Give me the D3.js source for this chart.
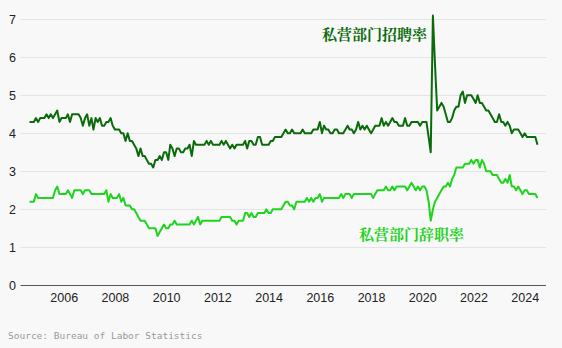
<!DOCTYPE html>
<html>
<head>
<meta charset="utf-8">
<script src="https://cdn.jsdelivr.net/npm/d3@7"></script>
<style>
  html, body { margin: 0; padding: 0; background: #f8f8f8; }
  svg { display: block; }
</style>
</head>
<body>
<svg id="chart" width="562" height="348"></svg>
<script>
// Monthly JOLTS private-sector rates (%), Aug 2004 – Jun 2024
const firstMonth = "2004-08";
const hiresRate = [
  4.3,4.3,4.3,4.4,4.3,4.4,4.4,4.4,4.5,4.4,
  4.5,4.4,4.5,4.6,4.3,4.4,4.4,4.4,4.5,4.3,
  4.5,4.5,4.5,4.5,4.4,4.2,4.4,4.5,4.2,4.4,
  4.1,4.4,4.3,4.4,4.2,4.2,4.3,4.3,4.4,4.2,
  4.1,4.1,4.1,4.0,4.0,3.8,4.0,3.8,3.8,3.7,
  3.6,3.4,3.6,3.4,3.4,3.3,3.2,3.2,3.1,3.3,
  3.3,3.4,3.3,3.5,3.5,3.3,3.7,3.6,3.4,3.6,
  3.6,3.5,3.5,3.6,3.6,3.7,3.4,3.8,3.7,3.7,
  3.7,3.7,3.7,3.8,3.7,3.8,3.7,3.7,3.7,3.7,
  3.8,3.7,3.8,3.7,3.6,3.7,3.6,3.7,3.7,3.7,
  3.7,3.8,3.6,3.8,3.8,3.7,3.7,3.9,3.9,3.7,
  3.7,3.7,3.7,3.8,3.8,3.9,3.9,3.9,3.9,4.0,
  4.1,4.0,4.0,4.1,4.0,4.0,4.0,4.0,4.1,4.0,
  4.0,4.0,4.0,4.1,4.1,4.1,4.3,4.0,4.2,4.1,
  4.1,4.0,4.0,4.1,4.1,4.0,4.0,4.0,4.1,4.2,
  4.1,4.1,4.0,4.1,4.3,4.1,4.2,4.1,4.2,4.1,
  4.0,4.1,4.2,4.2,4.2,4.4,4.2,4.3,4.2,4.3,
  4.4,4.3,4.3,4.2,4.2,4.2,4.4,4.2,4.2,4.3,
  4.3,4.3,4.3,4.2,4.3,4.3,4.3,3.9,3.5,7.1,
  5.8,4.6,4.7,4.8,4.7,4.5,4.3,4.3,4.4,4.6,
  4.7,4.7,5.0,5.1,4.8,5.0,5.0,5.0,4.9,4.8,
  5.0,4.8,4.8,4.7,4.6,4.6,4.5,4.4,4.3,4.3,
  4.5,4.3,4.3,4.2,4.3,4.2,4.0,4.1,4.1,4.1,
  4.0,3.9,4.0,3.9,3.9,3.9,3.9,3.9,3.7
];
const quitsRate = [
  2.2,2.2,2.2,2.4,2.3,2.3,2.3,2.3,2.3,2.3,
  2.3,2.3,2.5,2.6,2.4,2.4,2.4,2.4,2.5,2.4,
  2.3,2.5,2.5,2.5,2.5,2.4,2.5,2.5,2.5,2.4,
  2.4,2.4,2.4,2.4,2.4,2.4,2.5,2.2,2.4,2.3,
  2.3,2.3,2.4,2.2,2.3,2.1,2.1,2.1,2.0,2.0,
  1.9,1.8,1.7,1.7,1.7,1.6,1.5,1.5,1.5,1.5,
  1.3,1.4,1.5,1.6,1.5,1.5,1.6,1.6,1.7,1.6,
  1.6,1.6,1.6,1.6,1.6,1.6,1.7,1.6,1.7,1.8,
  1.6,1.7,1.7,1.7,1.7,1.7,1.7,1.7,1.7,1.7,
  1.8,1.8,1.8,1.8,1.8,1.7,1.7,1.6,1.7,1.7,
  1.7,1.9,1.9,1.8,1.9,1.8,1.8,1.9,1.9,1.9,
  1.9,2.0,1.9,1.9,2.0,2.0,2.0,2.0,2.0,2.1,
  2.2,2.2,2.1,2.1,2.0,2.2,2.2,2.2,2.2,2.2,
  2.3,2.2,2.3,2.2,2.3,2.3,2.4,2.2,2.3,2.3,
  2.3,2.3,2.3,2.3,2.3,2.3,2.4,2.3,2.4,2.4,
  2.4,2.3,2.4,2.4,2.4,2.4,2.4,2.4,2.4,2.4,
  2.4,2.3,2.4,2.5,2.5,2.5,2.5,2.6,2.5,2.5,
  2.6,2.5,2.6,2.6,2.6,2.6,2.6,2.5,2.6,2.7,
  2.6,2.5,2.6,2.5,2.6,2.6,2.5,2.2,1.7,2.0,
  2.2,2.3,2.4,2.5,2.6,2.6,2.7,2.6,2.8,2.9,
  3.1,3.1,3.1,3.1,3.2,3.2,3.2,3.3,3.2,3.3,
  3.3,3.1,3.3,3.2,3.0,3.0,3.0,2.9,2.9,2.9,
  2.8,2.7,2.7,2.8,2.7,2.9,2.6,2.6,2.5,2.6,
  2.5,2.4,2.5,2.5,2.4,2.4,2.4,2.4,2.3
];
const yTicks = [0, 1, 2, 3, 4, 5, 6, 7];
const xTickYears = [2006, 2008, 2010, 2012, 2014, 2016, 2018, 2020, 2022, 2024];
const seriesLabels = { hires: "私营部门招聘率", quits: "私营部门辞职率" };
const sourceText = "Source: Bureau of Labor Statistics";

const svg = d3.select("#chart");
const W = 562, H = 348;
svg.append("rect").attr("width", W).attr("height", H).attr("fill", "#f8f8f8");

// monthly values are plotted at month end (= start of following month)
const start = d3.timeParse("%Y-%m")(firstMonth);
const dateAt = i => d3.timeMonth.offset(start, i + 1);

const x = d3.scaleTime()
  .domain([new Date(2006, 0, 1), new Date(2024, 0, 1)])
  .range([63.7, 524.7]);
const y = d3.scaleLinear().domain([0, 7]).range([285.3, 19.3]);

const gridLeft = 20.5, gridRight = 546;

// gridlines
svg.append("g")
  .selectAll("line")
  .data(yTicks.filter(d => d !== 0))
  .join("line")
  .attr("x1", gridLeft).attr("x2", gridRight)
  .attr("y1", d => Math.round(y(d)) + 0.5).attr("y2", d => Math.round(y(d)) + 0.5)
  .attr("stroke", "#e4e4e4").attr("stroke-width", 1);

// y axis labels
const yAxis = d3.axisLeft(y).tickValues(yTicks).tickSize(0).tickPadding(0).tickFormat(d3.format("d"));
svg.append("g")
  .attr("transform", "translate(16,0)")
  .call(yAxis)
  .call(g => g.select(".domain").remove())
  .call(g => g.selectAll("text")
    .attr("font-family", "'Liberation Sans', Arial, sans-serif")
    .attr("font-size", 12.5)
    .attr("fill", "#222"));

// x axis
const xAxis = d3.axisBottom(x)
  .tickValues(xTickYears.map(yr => new Date(yr, 0, 1)))
  .tickSize(0).tickPadding(0)
  .tickFormat(d3.timeFormat("%Y"));
svg.append("g")
  .attr("transform", "translate(0,293)")
  .call(xAxis)
  .call(g => g.select(".domain").remove())
  .call(g => g.selectAll("text")
    .attr("font-family", "'Liberation Sans', Arial, sans-serif")
    .attr("font-size", 12.5)
    .attr("fill", "#222"));

// zero baseline
svg.append("line")
  .attr("x1", gridLeft).attr("x2", gridRight)
  .attr("y1", Math.round(y(0)) + 0.5).attr("y2", Math.round(y(0)) + 0.5)
  .attr("stroke", "#555").attr("stroke-width", 1);

const line = d3.line()
  .x((d, i) => x(dateAt(i)))
  .y(d => y(d));

const hiresColor = "#0b6b0b";
const quitsColor = "#1fd41f";

svg.append("path").datum(quitsRate)
  .attr("d", line)
  .attr("fill", "none").attr("stroke", quitsColor)
  .attr("stroke-width", 2).attr("stroke-linejoin", "round");

svg.append("path").datum(hiresRate)
  .attr("d", line)
  .attr("fill", "none").attr("stroke", hiresColor)
  .attr("stroke-width", 2).attr("stroke-linejoin", "round");

// series labels
const labelFont = "'Noto Serif CJK SC', 'Noto Serif SC', 'Noto Sans CJK SC', serif";
svg.append("text")
  .attr("x", 427).attr("y", 39.5)
  .attr("text-anchor", "end")
  .attr("font-family", labelFont)
  .attr("font-weight", "bold")
  .attr("font-size", 15)
  .attr("fill", hiresColor)
  .text(seriesLabels.hires);

svg.append("text")
  .attr("x", 411.5).attr("y", 240)
  .attr("text-anchor", "middle")
  .attr("font-family", labelFont)
  .attr("font-weight", "bold")
  .attr("font-size", 15)
  .attr("fill", quitsColor)
  .text(seriesLabels.quits);

// source
svg.append("text")
  .attr("x", 8).attr("y", 339)
  .attr("font-family", "'DejaVu Sans Mono', 'Liberation Mono', monospace")
  .attr("font-size", 9.5)
  .attr("fill", "#999")
  .text(sourceText);
</script>
</body>
</html>
